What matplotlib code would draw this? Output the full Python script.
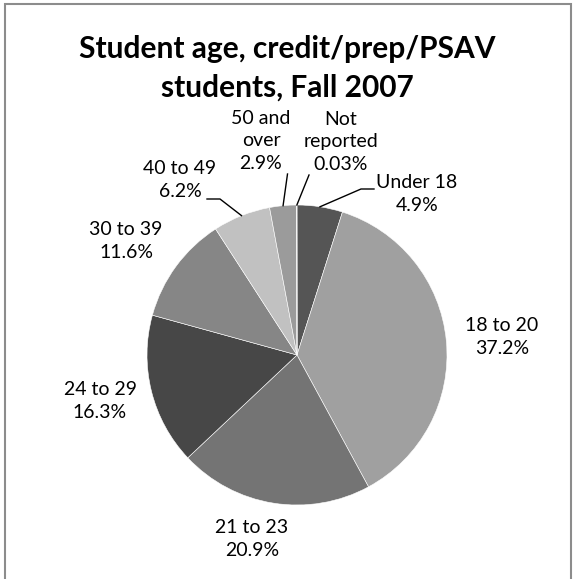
import numpy as np
import matplotlib.pyplot as plt
from matplotlib.patches import Rectangle

plt.rcParams['font.family'] = ['Lato', 'DejaVu Sans']

# Age groups and their share of students (percent)
groups = ["Under 18", "18 to 20", "21 to 23", "24 to 29", "30 to 39",
          "40 to 49", "50 and\nover", "Not\nreported"]
shares = [4.9, 37.2, 20.9, 16.3, 11.6, 6.2, 2.9, 0.03]
colors = ["#555555", "#a0a0a0", "#747474", "#474747", "#868686",
          "#c1c1c1", "#9b9b9b", "#9b9b9b"]

W, H = 574, 579
cx, cy, R = 297, 355, 150          # pie centre / radius in pixels

# label centres in pixel coordinates
label_pos = [(417, 194), (502, 337), (252, 539), (100, 401), (126, 241),
             (180, 180), (261, 141), (341, 142)]
# leader lines: where the line leaves the label (None = no line), optional elbow
leader_start = [(374, 189), None, None, None, None, (207, 199), (287.5, 174), (309, 175)]
leader_elbow = [(361, 189), None, None, None, None, (220, 199), None, None]


def to_data(p):
    return ((p[0] - cx) / R, (cy - p[1]) / R)


fig = plt.figure(figsize=(W / 100, H / 100), dpi=100)
ax = fig.add_axes([0, 0, 1, 1])

wedges, _ = ax.pie(shares, colors=colors, startangle=90, counterclock=False,
                   radius=1, center=(0, 0),
                   wedgeprops=dict(edgecolor='white', linewidth=0.4))

# pie() resets the limits, so map pixels to data units afterwards
ax.set_xlim(-cx / R, (W - cx) / R)
ax.set_ylim(-(H - cy) / R, cy / R)
ax.set_aspect('equal')
ax.axis('off')

for i, w in enumerate(wedges):
    v = shares[i]
    lx, ly = to_data(label_pos[i])
    ax.text(lx, ly, f"{groups[i]}\n{v:g}%", ha='center', va='center',
            fontsize=14, linespacing=1.42, color='black')
    if leader_start[i] is not None:
        ang = np.deg2rad((w.theta1 + w.theta2) / 2)
        ex, ey = np.cos(ang), np.sin(ang)
        pts = [to_data(leader_start[i])]
        if leader_elbow[i] is not None:
            pts.append(to_data(leader_elbow[i]))
        pts.append((ex, ey))
        xs, ys = zip(*pts)
        ax.plot(xs, ys, color='black', linewidth=1)

fig.text(0.5, 1 - 49 / H, "Student age, credit/prep/PSAV", ha='center', va='center',
         fontsize=21.5, fontweight='bold')
fig.text(0.5, 1 - 88 / H, "students, Fall 2007", ha='center', va='center',
         fontsize=21.5, fontweight='bold')

# chart frame
fig.patches.append(Rectangle((5 / W, -0.05), 566 / W, 1.05 - 4 / H,
                             transform=fig.transFigure, fill=False,
                             edgecolor='#8c8c8c', linewidth=1.5))

fig.savefig('out.png', dpi=100)
